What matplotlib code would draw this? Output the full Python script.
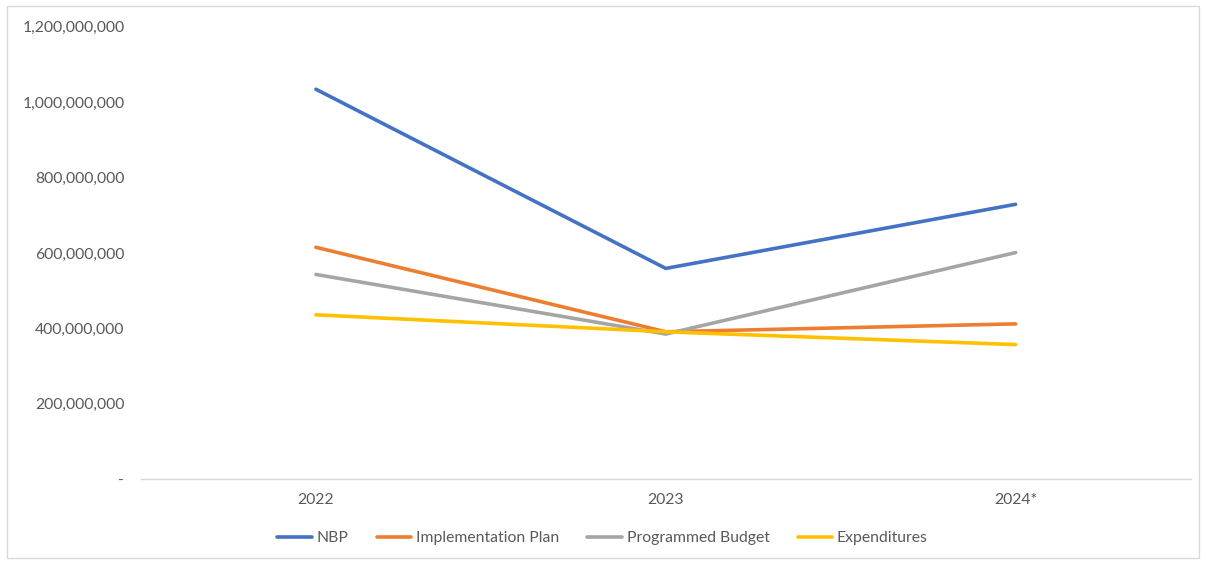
import matplotlib.pyplot as plt
from matplotlib.patches import Rectangle
from matplotlib.ticker import FuncFormatter

# values
years = ['2022', '2023', '2024*']
nbp = [1034e6, 559e6, 729e6]
implementation_plan = [615e6, 391e6, 412e6]
programmed_budget = [543e6, 385e6, 601e6]
expenditures = [436e6, 391e6, 357e6]

series = [
    ('NBP', nbp, '#4472C4'),
    ('Implementation Plan', implementation_plan, '#ED7D31'),
    ('Programmed Budget', programmed_budget, '#A5A5A5'),
    ('Expenditures', expenditures, '#FFC000'),
]

plt.rcParams['font.family'] = ['Lato', 'DejaVu Sans']
text_color = '#595959'
fs = 11.3

fig = plt.figure(figsize=(12.05, 5.63), dpi=100)
ax = fig.add_axes([0.117, 0.1487, 0.871, 0.804])

x = range(len(years))
for name, vals, color in series:
    ax.plot(x, vals, color=color, linewidth=2.6, solid_capstyle='round',
            solid_joinstyle='round', label=name)

ax.set_xlim(-0.5, len(years) - 0.5)
ax.set_ylim(0, 1.2e9)
ax.set_xticks(list(x))
ax.set_xticklabels(years)
ax.set_yticks([i * 2e8 for i in range(7)])
ax.yaxis.set_major_formatter(FuncFormatter(lambda v, p: '-' if v == 0 else f'{v:,.0f}'))

for side in ['top', 'right', 'left']:
    ax.spines[side].set_visible(False)
ax.spines['bottom'].set_color('#D9D9D9')
ax.spines['bottom'].set_linewidth(1)
ax.tick_params(axis='both', length=0, colors=text_color, labelsize=fs)
ax.tick_params(axis='y', pad=12)
ax.tick_params(axis='x', pad=10)

fig.legend(loc='center', bbox_to_anchor=(0.5, 1 - 538 / 563), ncol=4, frameon=False,
           handlelength=2.2, handletextpad=0.3, columnspacing=1.8,
           prop={'size': fs}, labelcolor=text_color)

# light gray chart border
fig.patches.append(Rectangle((7 / 1205, 5 / 563), 1192 / 1205, 552 / 563, transform=fig.transFigure,
                             fill=False, edgecolor='#D9D9D9', linewidth=1))

fig.savefig('out.png', dpi=100)
